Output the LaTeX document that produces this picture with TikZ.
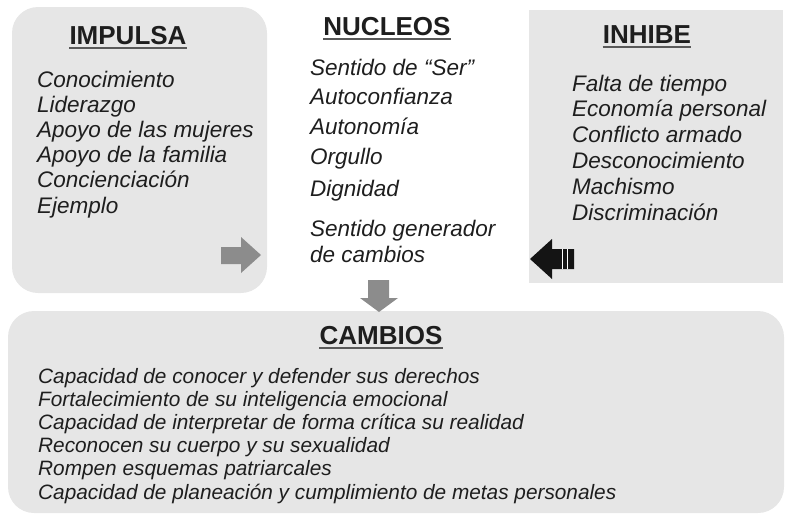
\documentclass[tikz,border=0pt]{standalone}
\usepackage{fontspec}
\setmainfont{Liberation Sans}
\definecolor{boxg}{HTML}{E6E6E6}
\definecolor{arrg}{HTML}{8C8C8C}
\definecolor{txt}{HTML}{1E1E1E}
\tikzset{%
    boxr/.style={fill=boxg, rounded corners=26pt},
    boxs/.style={fill=boxg},
    hd/.style={inner sep=0pt, text depth=0pt, anchor=base, text=txt, font=\fontsize{26}{30}\selectfont\bfseries},
    itm/.style={inner sep=0pt, anchor=base west, text=txt, font=\fontsize{22.5}{26}\selectfont\itshape},
    itc/.style={inner sep=0pt, anchor=base west, text=txt, font=\fontsize{20.8}{24}\selectfont\itshape},
    uln/.style={line width=2pt, draw=black!65},
    gar/.style={fill=arrg},
    bar/.style={fill=black!92},
    gap/.style={draw=white, line width=1.4pt},
}

\begin{document}
\begin{tikzpicture}[x=1pt,y=-1pt]
    \useasboundingbox (0,0) rectangle (787,514);
    % boxes
    \fill [boxr] (12,7) rectangle (267,293);
    \fill [boxs] (529,10) rectangle (783,283);
    \fill [boxr] (8,311) rectangle (784,513);
    % headings
    \node [hd] (imp) at (128,44) {IMPULSA};
    \node [hd] (nuc) at (387,35) {NUCLEOS};
    \node [hd] (inh) at (647,43) {INHIBE};
    \node [hd] (cam) at (381,344) {CAMBIOS};
    \foreach \h in {imp,nuc,inh,cam}
        \draw [uln] ([yshift=-4pt]\h.south west) -- ([yshift=-4pt]\h.south east);
    % lists
    \foreach \t [count=\i from 0] in {Conocimiento,Liderazgo,Apoyo de las mujeres,Apoyo de la familia,Concienciación,Ejemplo}
        \node [itm] (imp\i) at (37,87+25.2*\i) {\t};
    \foreach \t/\y [count=\i from 0] in {Sentido de “Ser”/75,Autoconfianza/104,Autonomía/134,Orgullo/164,Dignidad/196,Sentido generador/236,de cambios/262}
        \node [itm] (nuc\i) at (310,\y) {\t};
    \foreach \t [count=\i from 0] in {Falta de tiempo,Economía personal,Conflicto armado,Desconocimiento,Machismo,Discriminación}
        \node [itm] (inh\i) at (572,91+25.8*\i) {\t};
    \foreach \t [count=\i from 0] in {Capacidad de conocer y defender sus derechos,Fortalecimiento de su inteligencia emocional,Capacidad de interpretar de forma crítica su realidad,Reconocen su cuerpo y su sexualidad,Rompen esquemas patriarcales,Capacidad de planeación y cumplimiento de metas personales}
        \node [itc] (cam\i) at (38,383+23.2*\i) {\t};
    % block arrows
    \fill [gar] (221,247) -- (241,247) -- (241,237) -- (261,255) -- (241,273) -- (241,264) -- (221,264) -- cycle;
    \fill [gar] (368,280) -- (389,280) -- (389,298) -- (398,298) -- (379,312) -- (360,298) -- (368,298) -- cycle;
    \fill [bar] (574,249) -- (552,249) -- (552,239) -- (530,259) -- (552,279) -- (552,269) -- (574,269) -- cycle;
    \draw [gap] (562.5,249) -- (562.5,269);
    \draw [gap] (567.5,249) -- (567.5,269);
\end{tikzpicture}
\end{document}
